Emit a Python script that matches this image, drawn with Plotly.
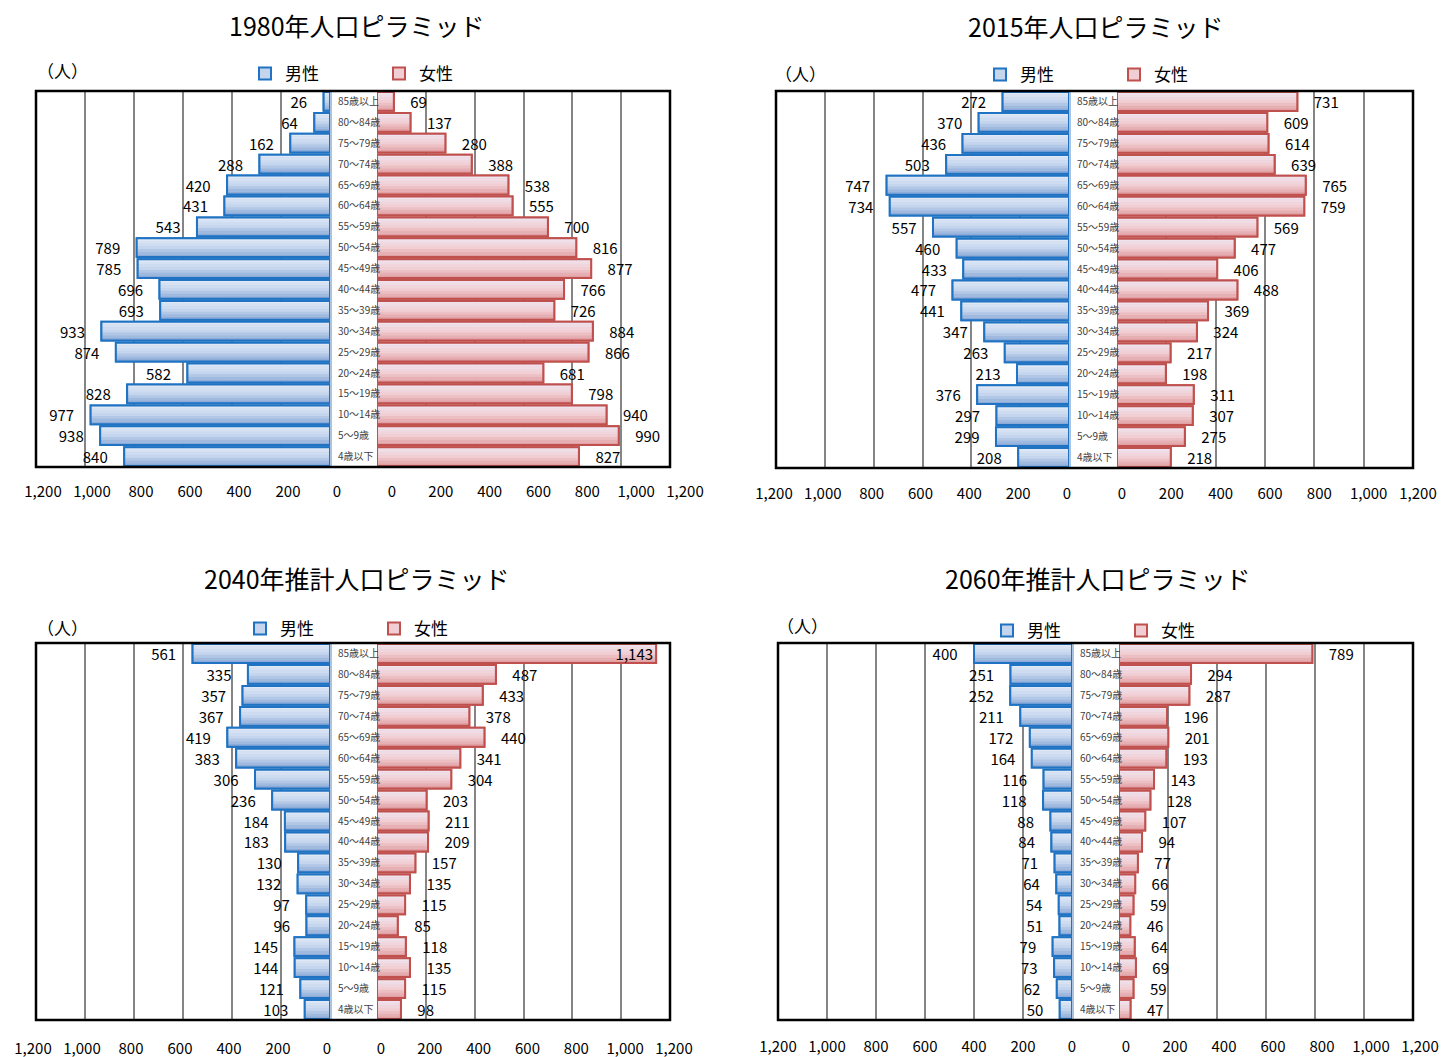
import plotly.graph_objects as go

# ---- data -------------------------------------------------------------
AGES = ["85歳以上", "80～84歳", "75～79歳", "70～74歳", "65～69歳", "60～64歳",
        "55～59歳", "50～54歳", "45～49歳", "40～44歳", "35～39歳", "30～34歳",
        "25～29歳", "20～24歳", "15～19歳", "10～14歳", "5～9歳", "4歳以下"]

MALE_1980 = [26, 64, 162, 288, 420, 431, 543, 789, 785, 696, 693, 933, 874, 582, 828, 977, 938, 840]
FEMALE_1980 = [69, 137, 280, 388, 538, 555, 700, 816, 877, 766, 726, 884, 866, 681, 798, 940, 990, 827]

MALE_2015 = [272, 370, 436, 503, 747, 734, 557, 460, 433, 477, 441, 347, 263, 213, 376, 297, 299, 208]
FEMALE_2015 = [731, 609, 614, 639, 765, 759, 569, 477, 406, 488, 369, 324, 217, 198, 311, 307, 275, 218]

MALE_2040 = [561, 335, 357, 367, 419, 383, 306, 236, 184, 183, 130, 132, 97, 96, 145, 144, 121, 103]
FEMALE_2040 = [1143, 487, 433, 378, 440, 341, 304, 203, 211, 209, 157, 135, 115, 85, 118, 135, 115, 98]

MALE_2060 = [400, 251, 252, 211, 172, 164, 116, 118, 88, 84, 71, 64, 54, 51, 79, 73, 62, 50]
FEMALE_2060 = [789, 294, 287, 196, 201, 193, 143, 128, 107, 94, 77, 66, 59, 46, 64, 69, 59, 47]

TITLES = ["1980年人口ピラミッド", "2015年人口ピラミッド",
          "2040年推計人口ピラミッド", "2060年推計人口ピラミッド"]
MALE_SERIES = [MALE_1980, MALE_2015, MALE_2040, MALE_2060]
FEMALE_SERIES = [FEMALE_1980, FEMALE_2015, FEMALE_2040, FEMALE_2060]
TICK_VALUES = [0, 200, 400, 600, 800, 1000, 1200]
MALE_NAME, FEMALE_NAME = "男性", "女性"
UNIT_LABEL = "（人）"

# ---- layout geometry (pixels) ------------------------------------------
W, H = 1446, 1057
FONT = "Noto Sans CJK JP"

# frame edges, zero positions of both halves, title / unit label / legend
# anchors, horizontal nudge (px, rightward) of each half's tick labels and
# their distance below the frame
PANELS = [
    dict(L=36, M=330, F=377, R=670, T=91, B=467, tx=357, ty=25,
         sm=7, sf=15, so=14, ux=62, uy=71, lx=245, ly=74),
    dict(L=776, M=1069, F=1117, R=1413, T=91, B=468, tx=1096, ty=26,
         sm=-2, sf=5, so=15, ux=800, uy=73, lx=980, ly=75),
    dict(L=36, M=330, F=377, R=670, T=643, B=1020, tx=357, ty=578,
         sm=-3, sf=4, so=18, ux=62, uy=627, lx=240, ly=629),
    dict(L=778, M=1072, F=1119, R=1413, T=643, B=1020, tx=1098, ty=578,
         sm=0, sf=7, so=16, ux=802, uy=625, lx=987, ly=631),
]


def fx(x):
    return x / W


def fy(y):
    return 1 - y / H


def mix(c0, c1, t):
    return tuple(round(a + (b - a) * t) for a, b in zip(c0, c1))


def ramp(stops, t):
    # piecewise linear colour ramp through three stops
    if t <= 0.5:
        c = mix(stops[0], stops[1], t / 0.5)
    else:
        c = mix(stops[1], stops[2], (t - 0.5) / 0.5)
    return "rgb(%d,%d,%d)" % c


MALE_LINE = "#1F73C2"
FEMALE_LINE = "#C0504D"
MALE_STOPS = [(228, 236, 247), (196, 213, 237), (132, 164, 212)]
FEMALE_STOPS = [(238, 230, 242), (241, 206, 211), (222, 152, 156)]

BAR_W = 0.9
N_STRIPS = 7
PAD = "\u00a0" * 4

fig = go.Figure()


def add_side(values, xa, ya, stops, line_color, name, legend, textpos, is_male):
    # base bar carries the legend entry
    fig.add_trace(go.Bar(
        x=values, y=AGES, orientation="h", xaxis=xa, yaxis=ya,
        width=BAR_W, marker=dict(color=ramp(stops, 0.5),
                                 line=dict(color=line_color, width=2)),
        name=name, legend=legend, showlegend=True, hoverinfo="skip"))
    # shaded strips give each bar its vertical gradient
    h = BAR_W / N_STRIPS
    for k in range(N_STRIPS):
        fig.add_trace(go.Bar(
            x=values, y=AGES, orientation="h", xaxis=xa, yaxis=ya,
            width=h + 0.004, offset=-BAR_W / 2 + k * h,
            marker=dict(color=ramp(stops, (k + 0.5) / N_STRIPS), line=dict(width=0)),
            showlegend=False, hoverinfo="skip"))
    # outline and value labels on top
    tmpl = "%{x:,}" + PAD if is_male else PAD + "%{x:,}"
    fig.add_trace(go.Bar(
        x=values, y=AGES, orientation="h", xaxis=xa, yaxis=ya,
        width=BAR_W, marker=dict(color="rgba(0,0,0,0)",
                                 line=dict(color=line_color, width=2)),
        texttemplate=tmpl, textposition=textpos, insidetextanchor="end",
        textfont=dict(family=FONT, size=15, color="#000000"),
        insidetextfont=dict(family=FONT, size=15, color="#000000"),
        outsidetextfont=dict(family=FONT, size=15, color="#000000"),
        constraintext="none", cliponaxis=False,
        showlegend=False, hovertemplate="%{y}: %{x:,}<extra>" + name + "</extra>"))


layout = dict(
    width=W, height=H, margin=dict(l=0, r=0, t=0, b=0, autoexpand=False),
    paper_bgcolor="white", plot_bgcolor="rgba(0,0,0,0)",
    barmode="overlay", font=dict(family=FONT, color="#000000"),
    annotations=[], shapes=[],
)

tick_text = ["{:,}".format(v) for v in TICK_VALUES]


def axis_key(prefix, n):
    return prefix if n == 1 else "%s%d" % (prefix, n)


def axis_ref(letter, n):
    return letter if n == 1 else "%s%d" % (letter, n)


for i, p in enumerate(PANELS):
    # female half first so the male subplot (holding the age labels) is drawn above it
    nf, nm, ny = 2 * i + 1, 2 * i + 2, i + 1
    xf, xm, ya = axis_ref("x", nf), axis_ref("x", nm), axis_ref("y", ny)
    leg = axis_key("legend", ny)

    fem_vals = FEMALE_SERIES[i]
    fem_pos = ["inside" if v > 1100 else "outside" for v in fem_vals]
    add_side(MALE_SERIES[i], xm, ya, MALE_STOPS, MALE_LINE, MALE_NAME, leg, "outside", True)
    add_side(fem_vals, xf, ya, FEMALE_STOPS, FEMALE_LINE, FEMALE_NAME, leg, fem_pos, False)

    common_x = dict(
        tickvals=TICK_VALUES, ticktext=tick_text, showgrid=True,
        gridcolor="#858585", gridwidth=1.6, zeroline=False, showline=False,
        ticks="", ticklabelstandoff=p["so"], fixedrange=True, automargin=False,
        tickfont=dict(family=FONT, size=15, color="#000000"), anchor=ya,
    )
    # the male axis is reversed, so its label shift runs the other way
    layout[axis_key("xaxis", nm)] = dict(
        common_x, domain=[fx(p["L"]), fx(p["M"])], range=[1200, 0],
        ticklabelshift=-p["sm"])
    layout[axis_key("xaxis", nf)] = dict(
        common_x, domain=[fx(p["F"]), fx(p["R"])], range=[0, 1200],
        ticklabelshift=p["sf"])
    layout[axis_key("yaxis", ny)] = dict(
        domain=[fy(p["B"]), fy(p["T"])], anchor=xm, side="right",
        type="category", categoryorder="array", categoryarray=AGES,
        range=[len(AGES) - 0.5, -0.5], showgrid=False, zeroline=False,
        showline=True, linecolor="#A9C3E0", linewidth=2, ticks="",
        ticklabelstandoff=4, fixedrange=True, automargin=False,
        tickfont=dict(family=FONT, size=10, color="#404040"))

    layout[leg] = dict(
        orientation="h", x=fx(p["lx"]), y=fy(p["ly"]), xanchor="left",
        yanchor="middle", font=dict(family=FONT, size=17, color="#000000"),
        bgcolor="rgba(0,0,0,0)", entrywidth=89, traceorder="normal",
        itemclick=False, itemdoubleclick=False)

    layout["annotations"] += [
        dict(text=TITLES[i], x=fx(p["tx"]), y=fy(p["ty"]), xref="paper", yref="paper",
             showarrow=False, xanchor="center", yanchor="middle",
             font=dict(family=FONT, size=25, color="#000000")),
        dict(text=UNIT_LABEL, x=fx(p["ux"]), y=fy(p["uy"]), xref="paper", yref="paper",
             showarrow=False, xanchor="center", yanchor="middle",
             font=dict(family=FONT, size=17, color="#000000")),
    ]
    layout["shapes"].append(dict(
        type="rect", xref="paper", yref="paper",
        x0=fx(p["L"]), x1=fx(p["R"]), y0=fy(p["B"]), y1=fy(p["T"]),
        line=dict(color="#000000", width=2.5), layer="above"))

fig.update_layout(**layout)
fig.write_html("out.html")
